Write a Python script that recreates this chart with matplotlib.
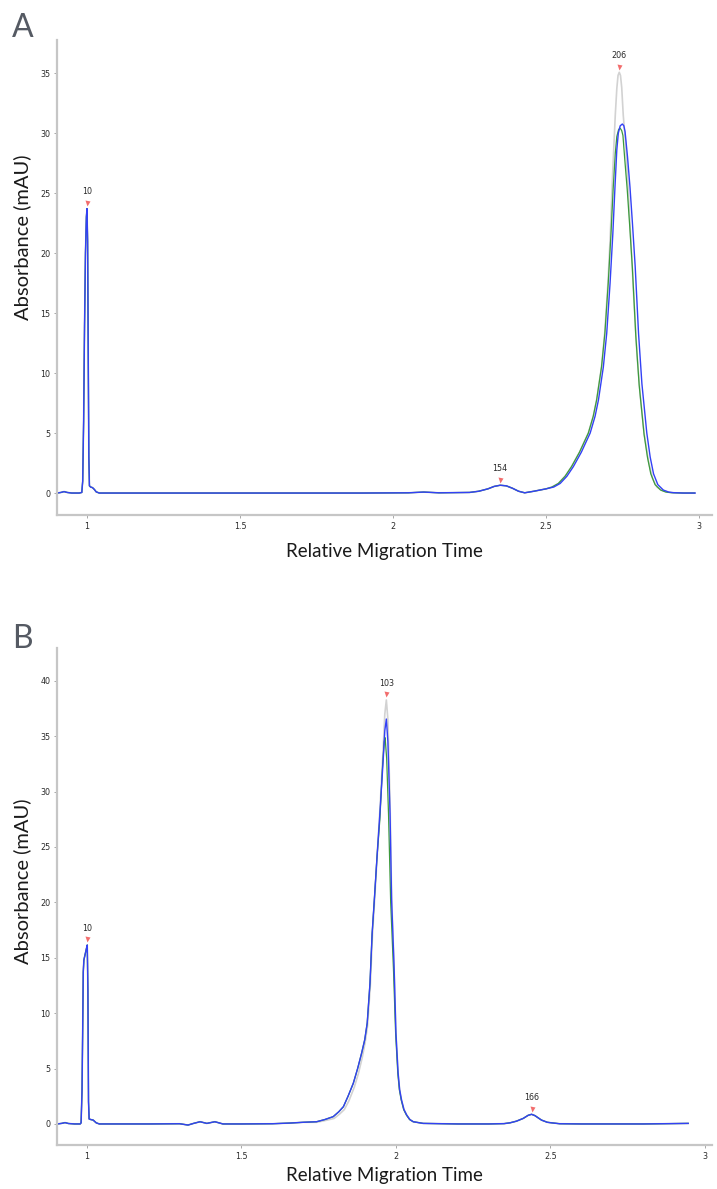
import matplotlib
matplotlib.use("Agg")
import matplotlib.pyplot as plt
from matplotlib.transforms import offset_copy
import numpy as np

# ── panel A : readings from the electropherogram ──────────────────
A_base_x = [0.902, 0.915, 0.925, 0.935, 0.95, 0.975, 0.983]
A_base_y = [0.0, 0.05, 0.12, 0.05, 0.0, 0.0, 0.05]
A_p1_x = [0.986, 0.989, 0.992, 0.995, 0.998, 1.000, 1.002, 1.004, 1.006, 1.008,
          1.012, 1.018, 1.024, 1.030, 1.040]
A_p1_y = [1.0, 6.0, 14.0, 20.0, 23.0, 23.7, 21.0, 12.0, 3.0, 0.6,
          0.5, 0.45, 0.3, 0.1, 0.0]
A_mid_x = [1.1, 1.5, 1.9, 2.05, 2.1, 2.15, 2.25, 2.28, 2.31, 2.33, 2.35, 2.37,
           2.39, 2.41, 2.43, 2.46, 2.50]
A_mid_y = [0.0, 0.0, 0.0, 0.02, 0.08, 0.02, 0.05, 0.15, 0.35, 0.55, 0.65, 0.6,
           0.4, 0.15, 0.02, 0.15, 0.35]
# main peak, per sample
A_blue_x = [2.525, 2.546, 2.568, 2.589, 2.615, 2.644, 2.660, 2.671, 2.687, 2.698,
            2.709, 2.718, 2.725, 2.731, 2.736, 2.742, 2.749, 2.754, 2.758, 2.766,
            2.774, 2.782, 2.791, 2.802, 2.813, 2.829, 2.840, 2.851, 2.865, 2.883,
            2.900, 2.916, 2.950, 2.987]
A_blue_y = [0.5, 0.8, 1.4, 2.2, 3.4, 5.0, 6.4, 7.75, 10.5, 13.3,
            17.5, 21.6, 25.5, 28.6, 30.0, 30.6, 30.75, 30.6, 30.1, 28.0,
            25.5, 22.5, 18.9, 13.3, 9.1, 5.0, 3.0, 1.6, 0.7, 0.25,
            0.08, 0.03, 0.0, 0.0]
A_green_x = [2.519, 2.540, 2.562, 2.583, 2.609, 2.638, 2.654, 2.665, 2.681, 2.692,
             2.703, 2.712, 2.719, 2.726, 2.731, 2.737, 2.742, 2.747, 2.751, 2.757,
             2.765, 2.773, 2.782, 2.793, 2.804, 2.820, 2.831, 2.842, 2.856, 2.874,
             2.891, 2.907, 2.945, 2.985]
A_green_y = [0.5, 0.8, 1.4, 2.2, 3.4, 5.0, 6.4, 7.75, 10.5, 13.3,
             17.5, 21.6, 25.3, 28.3, 29.7, 30.3, 30.4, 30.2, 29.8, 27.8,
             25.3, 22.3, 18.7, 13.1, 9.0, 4.9, 3.0, 1.6, 0.7, 0.25,
             0.08, 0.03, 0.0, 0.0]
A_gray_x = [2.519, 2.540, 2.562, 2.583, 2.609, 2.638, 2.654, 2.665, 2.681, 2.692,
            2.702, 2.709, 2.718, 2.726, 2.731, 2.735, 2.739, 2.743, 2.747, 2.752,
            2.760, 2.768, 2.776, 2.786, 2.797, 2.808, 2.820, 2.835, 2.848, 2.862,
            2.880, 2.912, 2.945, 2.985]
A_gray_y = [0.5, 0.8, 1.4, 2.2, 3.4, 5.0, 6.4, 7.75, 10.5, 13.5,
            17.5, 21.1, 27.0, 31.5, 33.7, 34.8, 35.06, 34.8, 33.8, 31.5,
            29.0, 25.5, 21.5, 16.5, 11.5, 8.0, 5.0, 2.6, 1.2, 0.5,
            0.2, 0.03, 0.0, 0.0]
A_peak_x = [1.000, 2.350, 2.739]
A_peak_y = [23.7, 0.65, 35.06]
A_peak_lbl = ["10", "154", "206"]

# ── panel B ──────────────────────────────────────────────────────
B_base_x = [0.903, 0.918, 0.929, 0.940, 0.960, 0.978]
B_base_y = [0.0, 0.05, 0.12, 0.04, 0.0, 0.0]
B_p1_x = [0.981, 0.984, 0.986, 0.988, 0.990, 0.994, 0.998, 1.001, 1.003, 1.005,
          1.007, 1.012, 1.020, 1.030, 1.040]
B_p1_y = [0.1, 3.0, 8.2, 13.7, 14.8, 15.3, 15.8, 16.15, 12.0, 2.0,
          0.45, 0.4, 0.35, 0.1, 0.0]
B_mid_x = [1.1, 1.2, 1.3, 1.327, 1.345, 1.366, 1.388, 1.414, 1.44, 1.5, 1.6,
           1.657, 1.70]
B_mid_y = [0.0, 0.0, 0.02, -0.1, 0.05, 0.2, 0.05, 0.2, 0.0, 0.0, 0.02,
           0.08, 0.15]
B_blue_x = [1.743, 1.770, 1.797, 1.815, 1.830, 1.845, 1.862, 1.876, 1.889, 1.899,
            1.907, 1.916, 1.923, 1.930, 1.939, 1.948, 1.958, 1.964, 1.969, 1.974,
            1.981, 1.986, 1.994, 2.000, 2.007, 2.012, 2.018, 2.026, 2.035, 2.045,
            2.056, 2.088]
B_blue_y = [0.2, 0.4, 0.66, 1.1, 1.56, 2.5, 3.67, 5.0, 6.4, 7.6,
            9.1, 12.7, 17.2, 20.2, 24.2, 28.0, 32.5, 35.5, 36.55, 34.5,
            28.0, 20.2, 14.2, 8.2, 4.6, 3.1, 2.17, 1.3, 0.8, 0.4,
            0.2, 0.05]
B_green_x = [1.743, 1.770, 1.797, 1.815, 1.830, 1.845, 1.862, 1.876, 1.889, 1.899,
             1.907, 1.916, 1.923, 1.930, 1.939, 1.948, 1.956, 1.962, 1.965, 1.970,
             1.976, 1.983, 1.992, 1.999, 2.006, 2.011, 2.017, 2.025, 2.034, 2.044,
             2.056, 2.088]
B_green_y = [0.2, 0.4, 0.66, 1.1, 1.56, 2.5, 3.67, 5.0, 6.4, 7.6,
             9.1, 12.7, 17.2, 20.2, 24.2, 27.5, 32.0, 34.5, 34.86, 33.0,
             28.0, 20.0, 14.0, 8.2, 4.6, 3.1, 2.17, 1.3, 0.8, 0.4,
             0.2, 0.05]
B_gray_x = [1.743, 1.770, 1.800, 1.818, 1.833, 1.848, 1.865, 1.879, 1.891, 1.900,
            1.908, 1.917, 1.924, 1.931, 1.940, 1.949, 1.958, 1.964, 1.969, 1.974,
            1.981, 1.986, 1.994, 2.000, 2.007, 2.012, 2.018, 2.026, 2.035, 2.045,
            2.056, 2.088]
B_gray_y = [0.15, 0.3, 0.5, 0.9, 1.3, 2.1, 3.3, 4.6, 6.0, 7.3,
            8.8, 12.4, 17.0, 20.2, 24.5, 28.8, 33.5, 37.0, 38.27, 36.5,
            29.0, 20.5, 14.2, 8.2, 4.6, 3.1, 2.17, 1.3, 0.8, 0.4,
            0.2, 0.05]
B_tail_x = [2.2, 2.3, 2.35, 2.369, 2.39, 2.412, 2.428, 2.439, 2.45, 2.471, 2.49,
            2.504, 2.53, 2.6, 2.8, 2.946]
B_tail_y = [0.0, 0.0, 0.03, 0.1, 0.25, 0.5, 0.78, 0.87, 0.75, 0.35, 0.15,
            0.1, 0.02, 0.0, 0.0, 0.05]
B_peak_x = [1.001, 1.969, 2.439]
B_peak_y = [16.15, 38.27, 0.87]
B_peak_lbl = ["10", "103", "166"]

x_ticks = [1, 1.5, 2, 2.5, 3]
x_tick_lbl = ["1", "1.5", "2", "2.5", "3"]

GRAY, GREEN, BLUE = "#d2d2d2", "#3c9a3c", "#3341f5"
LBL_FONT = ["Lato", "DejaVu Sans"]


def trace(parts):
    xs = np.concatenate([np.asarray(p[0], float) for p in parts])
    ys = np.concatenate([np.asarray(p[1], float) for p in parts])
    return xs, ys


def style_axes(ax, xlim, ylim, yticks, ylab_y, xlab_y):
    ax.set_xlim(*xlim)
    ax.set_ylim(*ylim)
    ax.set_xticks(x_ticks)
    ax.set_xticklabels(x_tick_lbl)
    ax.set_yticks(yticks)
    for s in ("top", "right"):
        ax.spines[s].set_visible(False)
    for s in ("left", "bottom"):
        ax.spines[s].set_color("#c6c6c6")
        ax.spines[s].set_linewidth(1.6)
    ax.tick_params(length=2.2, width=0.6, color="#999999", labelsize=5.8,
                   labelcolor="#2a2a2a", pad=2.5)
    ax.set_ylabel("Absorbance (mAU)", fontsize=14.5, family=LBL_FONT, color="#1a1a1a")
    ax.set_xlabel("Relative Migration Time", fontsize=13.5, family=LBL_FONT, color="#1a1a1a")
    ax.yaxis.set_label_coords(-0.040, ylab_y)
    ax.xaxis.set_label_coords(0.50, xlab_y)


def annotate_peaks(ax, px, py, labels):
    tri = offset_copy(ax.transData, fig=ax.figure, x=0, y=4.0, units="points")
    ax.plot(px, py, ls="none", marker="v", ms=3.6, color="#f26d6d", mec="none",
            transform=tri, zorder=5)
    for x, y, t in zip(px, py, labels):
        ax.annotate(t, xy=(x, y), xytext=(0, 12), textcoords="offset points",
                    ha="center", va="center", fontsize=5.8, color="#2a2a2a")


fig = plt.figure(figsize=(7.17, 11.89), dpi=100)
axA = fig.add_axes([57 / 717, 1 - 515 / 1189, 655 / 717, 475 / 1189])
axB = fig.add_axes([57 / 717, 1 - 1145 / 1189, 655 / 717, 497 / 1189])

# panel A
common = [(A_base_x, A_base_y), (A_p1_x, A_p1_y), (A_mid_x, A_mid_y)]
for (mx_, my_), col, lw in [((A_gray_x, A_gray_y), GRAY, 1.2),
                            ((A_green_x, A_green_y), GREEN, 0.9),
                            ((A_blue_x, A_blue_y), BLUE, 1.0)]:
    xs, ys = trace(common + [(mx_, my_)])
    axA.plot(xs, ys, color=col, lw=lw)
style_axes(axA, (0.902, 3.042), (-1.83, 37.75), range(0, 36, 5), 0.585, -0.058)
annotate_peaks(axA, A_peak_x, A_peak_y, A_peak_lbl)

# panel B
commonB = [(B_base_x, B_base_y), (B_p1_x, B_p1_y), (B_mid_x, B_mid_y)]
for (mx_, my_), col, lw in [((B_gray_x, B_gray_y), GRAY, 1.2),
                            ((B_green_x, B_green_y), GREEN, 0.9),
                            ((B_blue_x, B_blue_y), BLUE, 1.0)]:
    xs, ys = trace(commonB + [(mx_, my_), (B_tail_x, B_tail_y)])
    axB.plot(xs, ys, color=col, lw=lw)
style_axes(axB, (0.903, 3.023), (-1.9, 42.96), range(0, 41, 5), 0.53, -0.044)
annotate_peaks(axB, B_peak_x, B_peak_y, B_peak_lbl)

fig.text(12 / 717, 1 - 13 / 1189, "A", fontsize=23, color="#555a63", family=LBL_FONT,
         va="top", ha="left")
fig.text(12 / 717, 1 - 624 / 1189, "B", fontsize=23, color="#555a63", family=LBL_FONT,
         va="top", ha="left")

fig.savefig("out.png", dpi=100)
